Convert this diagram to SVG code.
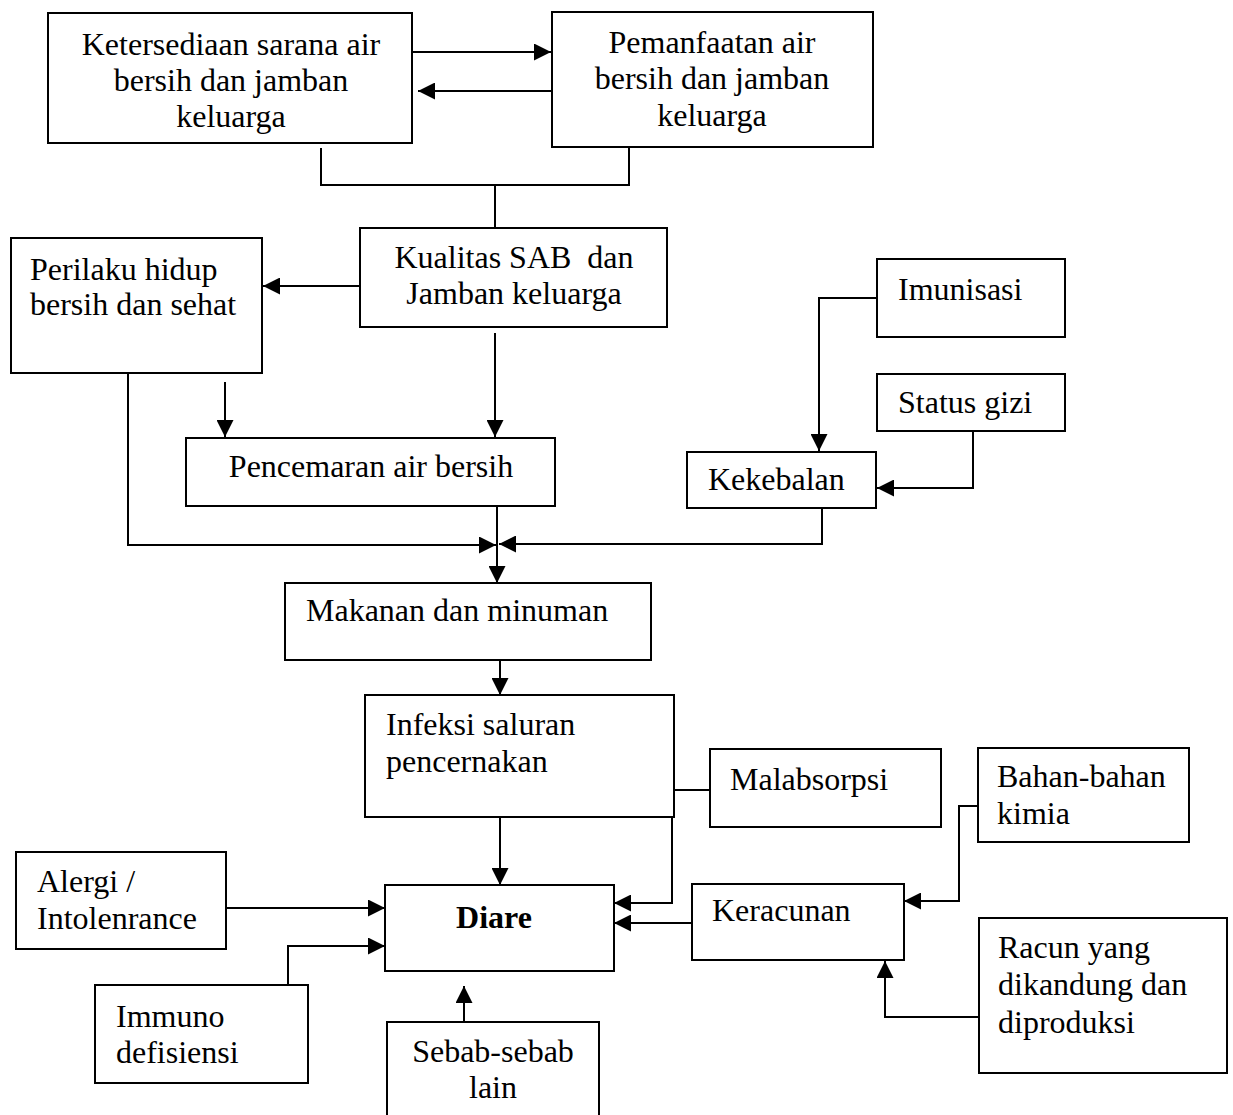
<svg xmlns="http://www.w3.org/2000/svg" width="1233" height="1115" viewBox="0 0 1233 1115">
<defs>
<style>
.box{fill:#fff;stroke:#000;stroke-width:2}
.t{font-family:"Liberation Serif","Times New Roman",serif;font-size:32px;fill:#000}
.c{text-anchor:middle}
.b{font-weight:bold}
.ln{fill:none;stroke:#000;stroke-width:2}
</style>
<marker id="ah" markerUnits="userSpaceOnUse" markerWidth="17" markerHeight="17" refX="17" refY="8.5" orient="auto">
<path d="M0,0 L17,8.5 L0,17 z" fill="#000"/>
</marker>
</defs>
<rect width="1233" height="1115" fill="#fff"/>
<g id="connectors">
<path class="ln" d="M412,52 H551" marker-end="url(#ah)"/>
<path class="ln" d="M552,91 H418" marker-end="url(#ah)"/>
<path class="ln" d="M321,148 V185 H629 V148"/>
<path class="ln" d="M495,185 V228"/>
<path class="ln" d="M360,286 H263" marker-end="url(#ah)"/>
<path class="ln" d="M495,333 V437" marker-end="url(#ah)"/>
<path class="ln" d="M225,382 V437" marker-end="url(#ah)"/>
<path class="ln" d="M128,374 V545 H496" marker-end="url(#ah)"/>
<path class="ln" d="M822,508 V544 H499" marker-end="url(#ah)"/>
<path class="ln" d="M497,506 V583" marker-end="url(#ah)"/>
<path class="ln" d="M877,298 H819 V451" marker-end="url(#ah)"/>
<path class="ln" d="M973,431 V488 H877" marker-end="url(#ah)"/>
<path class="ln" d="M500,660 V695" marker-end="url(#ah)"/>
<path class="ln" d="M500,817 V885" marker-end="url(#ah)"/>
<path class="ln" d="M226,908 H385" marker-end="url(#ah)"/>
<path class="ln" d="M288,985 V946 H385" marker-end="url(#ah)"/>
<path class="ln" d="M464,1022 V986" marker-end="url(#ah)"/>
<path class="ln" d="M709,790 H672 V903 H614" marker-end="url(#ah)"/>
<path class="ln" d="M692,923 H614" marker-end="url(#ah)"/>
<path class="ln" d="M977,806 H959 V901 H904" marker-end="url(#ah)"/>
<path class="ln" d="M979,1017 H885 V961" marker-end="url(#ah)"/>
</g>
<g id="ketersediaan"><rect class="box" x="48" y="13" width="364" height="130"/>
<text class="t c" x="231" y="55">Ketersediaan sarana air</text>
<text class="t c" x="231" y="91">bersih dan jamban</text>
<text class="t c" x="231" y="127">keluarga</text></g>
<g id="pemanfaatan"><rect class="box" x="552" y="12" width="321" height="135"/>
<text class="t c" x="712" y="53">Pemanfaatan air</text>
<text class="t c" x="712" y="89">bersih dan jamban</text>
<text class="t c" x="712" y="126">keluarga</text></g>
<g id="kualitas"><rect class="box" x="360" y="228" width="307" height="99"/>
<text class="t c" x="514" y="268" xml:space="preserve">Kualitas SAB  dan</text>
<text class="t c" x="514" y="304">Jamban keluarga</text></g>
<g id="perilaku"><rect class="box" x="11" y="238" width="251" height="135"/>
<text class="t" x="30" y="280">Perilaku hidup</text>
<text class="t" x="30" y="315">bersih dan sehat</text></g>
<g id="pencemaran"><rect class="box" x="186" y="438" width="369" height="68"/>
<text class="t c" x="371" y="477">Pencemaran air bersih</text></g>
<g id="imunisasi"><rect class="box" x="877" y="259" width="188" height="78"/>
<text class="t" x="898" y="300">Imunisasi</text></g>
<g id="statusgizi"><rect class="box" x="877" y="374" width="188" height="57"/>
<text class="t" x="898" y="413">Status gizi</text></g>
<g id="kekebalan"><rect class="box" x="687" y="452" width="189" height="56"/>
<text class="t" x="708" y="490">Kekebalan</text></g>
<g id="makanan"><rect class="box" x="285" y="583" width="366" height="77"/>
<text class="t" x="306" y="621">Makanan dan minuman</text></g>
<g id="infeksi"><rect class="box" x="365" y="695" width="309" height="122"/>
<text class="t" x="386" y="735">Infeksi saluran</text>
<text class="t" x="386" y="772">pencernakan</text></g>
<g id="diare"><rect class="box" x="385" y="885" width="229" height="86"/>
<text class="t c b" x="494" y="928">Diare</text></g>
<g id="alergi"><rect class="box" x="16" y="852" width="210" height="97"/>
<text class="t" x="37" y="892">Alergi /</text>
<text class="t" x="37" y="929">Intolenrance</text></g>
<g id="immuno"><rect class="box" x="95" y="985" width="213" height="98"/>
<text class="t" x="116" y="1027">Immuno</text>
<text class="t" x="116" y="1063">defisiensi</text></g>
<g id="sebab"><rect class="box" x="387" y="1022" width="212" height="110"/>
<text class="t c" x="493" y="1062">Sebab-sebab</text>
<text class="t c" x="493" y="1098">lain</text></g>
<g id="malabsorpsi"><rect class="box" x="710" y="749" width="231" height="78"/>
<text class="t" x="730" y="790">Malabsorpsi</text></g>
<g id="keracunan"><rect class="box" x="692" y="884" width="212" height="76"/>
<text class="t" x="712" y="921">Keracunan</text></g>
<g id="bahan"><rect class="box" x="978" y="748" width="211" height="94"/>
<text class="t" x="997" y="787">Bahan-bahan</text>
<text class="t" x="997" y="824">kimia</text></g>
<g id="racun"><rect class="box" x="979" y="918" width="248" height="155"/>
<text class="t" x="998" y="958">Racun yang</text>
<text class="t" x="998" y="995">dikandung dan</text>
<text class="t" x="998" y="1033">diproduksi</text></g>
</svg>
